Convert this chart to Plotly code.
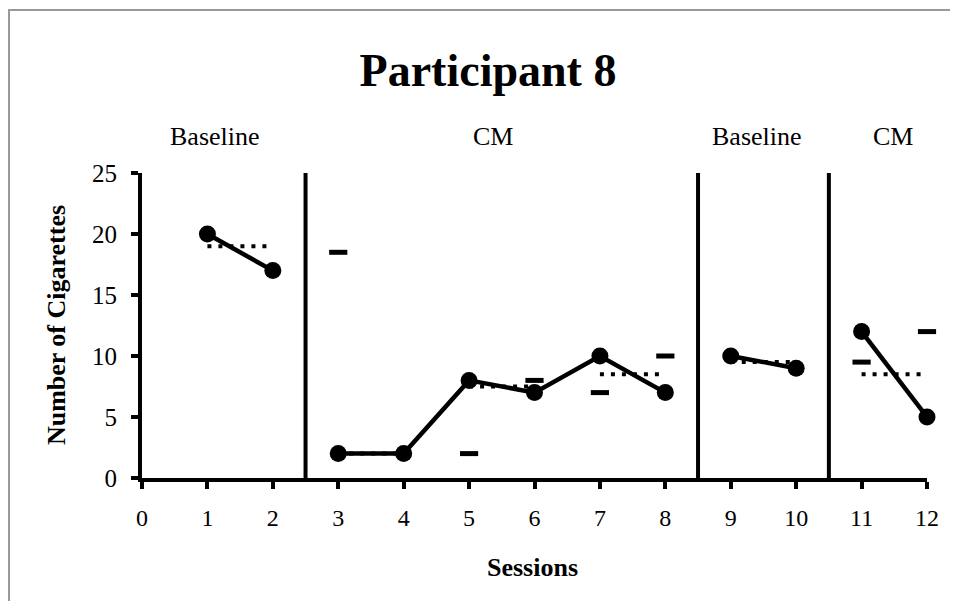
import plotly.graph_objects as go

# ---- data ----
sessions = [1, 2, 3, 4, 5, 6, 7, 8, 9, 10, 11, 12]
cigarettes = [20, 17, 2, 2, 8, 7, 10, 7, 10, 9, 12, 5]
phase_of_session = [0, 0, 1, 1, 1, 1, 1, 1, 2, 2, 3, 3]

# dotted pair-level reference lines (start session, end session, value)
dotted_start = [1, 3, 5, 7, 9, 11]
dotted_end = [2, 4, 6, 8, 10, 12]
dotted_value = [19, 2, 7.5, 8.5, 9.5, 8.5]

# short horizontal dash markers
dash_sessions = [3, 5, 6, 7, 8, 11, 12]
dash_values = [18.5, 2, 8, 7, 10, 9.5, 12]

# phase-change lines and labels
phase_changes = [2.5, 8.5, 10.5]
phase_labels = ["Baseline", "CM", "Baseline", "CM"]
phase_label_x = [1.12, 5.37, 9.4, 11.48]

x_ticks = list(range(0, 13))
y_ticks = [0, 5, 10, 15, 20, 25]

FONT = "Liberation Serif"
OFF = 8  # page body margin compensation

W, H = 958 - 2 * OFF, 609 - 2 * OFF
L, T, PW, PH = 142 - OFF, 173 - OFF, 785, 305
R = W - L - PW
B = H - T - PH

fig = go.Figure()

# phase change vertical lines
for pc in phase_changes:
    fig.add_trace(go.Scatter(x=[pc, pc], y=[0, 25], mode="lines",
                             line=dict(color="black", width=4),
                             hoverinfo="skip", showlegend=False))

# dotted reference lines
for s, e, v in zip(dotted_start, dotted_end, dotted_value):
    fig.add_trace(go.Scatter(x=[s, e], y=[v, v], mode="lines",
                             line=dict(color="black", width=4, dash="4px,7px"),
                             hoverinfo="skip", showlegend=False, cliponaxis=False))

# data lines per phase
for ph in sorted(set(phase_of_session)):
    xs = [s for s, p in zip(sessions, phase_of_session) if p == ph]
    ys = [c for c, p in zip(cigarettes, phase_of_session) if p == ph]
    fig.add_trace(go.Scatter(x=xs, y=ys, mode="lines+markers",
                             line=dict(color="black", width=4.5),
                             marker=dict(color="black", size=17, symbol="circle"),
                             showlegend=False, cliponaxis=False))

# dash markers
fig.add_trace(go.Scatter(x=dash_sessions, y=dash_values, mode="markers",
                         marker=dict(symbol="line-ew", size=13,
                                     line=dict(color="black", width=5)),
                         showlegend=False, cliponaxis=False))

annotations = []
for lab, lx in zip(phase_labels, phase_label_x):
    annotations.append(dict(text=lab, x=lx, xref="x", y=1.121, yref="paper",
                            showarrow=False, xanchor="center", yanchor="middle",
                            font=dict(family=FONT, size=26, color="black")))
annotations.append(dict(text="<b>Number of Cigarettes</b>", x=-0.108, xref="paper",
                        y=0.502, yref="paper", textangle=-90, showarrow=False,
                        xanchor="center", yanchor="middle",
                        font=dict(family=FONT, size=26, color="black")))
annotations.append(dict(text="<b>Sessions</b>", x=0.498, xref="paper",
                        y=-0.295, yref="paper", showarrow=False,
                        xanchor="center", yanchor="middle",
                        font=dict(family=FONT, size=26, color="black")))

BX = 9  # screen x of left border (figure starts at screen x = 8)
fig.update_layout(
    width=W, height=H,
    margin=dict(l=L, r=R, t=T, b=B),
    paper_bgcolor="white", plot_bgcolor="white",
    title=dict(text="<b>Participant 8</b>", x=(488 - OFF) / W, xanchor="center",
               y=1 - (70 - OFF) / H, yanchor="middle", yref="container",
               font=dict(family=FONT, size=46, color="black")),
    annotations=annotations,
    shapes=[
        dict(type="line", xref="paper", yref="paper",
             x0=(BX - 142) / 785, x1=(980 - 142) / 785,
             y0=(478 - 10) / 305, y1=(478 - 10) / 305,
             line=dict(color="#999999", width=2)),
        dict(type="line", xref="paper", yref="paper",
             x0=(BX - 142) / 785, x1=(BX - 142) / 785,
             y0=(478 - 9) / 305, y1=(478 - 640) / 305,
             line=dict(color="#999999", width=2)),
    ],
    xaxis=dict(range=[0, 12], tickvals=x_ticks, ticktext=[str(t) for t in x_ticks],
               showgrid=False, zeroline=False, showline=True, linecolor="black",
               linewidth=4, ticks="outside", ticklen=7, tickwidth=4, tickcolor="black",
               tickfont=dict(family=FONT, size=24, color="black"),
               ticklabelstandoff=8),
    yaxis=dict(range=[0, 25], tickvals=y_ticks, showgrid=False, zeroline=False,
               showline=True, linecolor="black", linewidth=4, ticks="outside",
               ticklen=7, tickwidth=4, tickcolor="black",
               tickfont=dict(family=FONT, size=25, color="black"),
               ticklabelstandoff=9),
)

fig.write_html("out.html")
